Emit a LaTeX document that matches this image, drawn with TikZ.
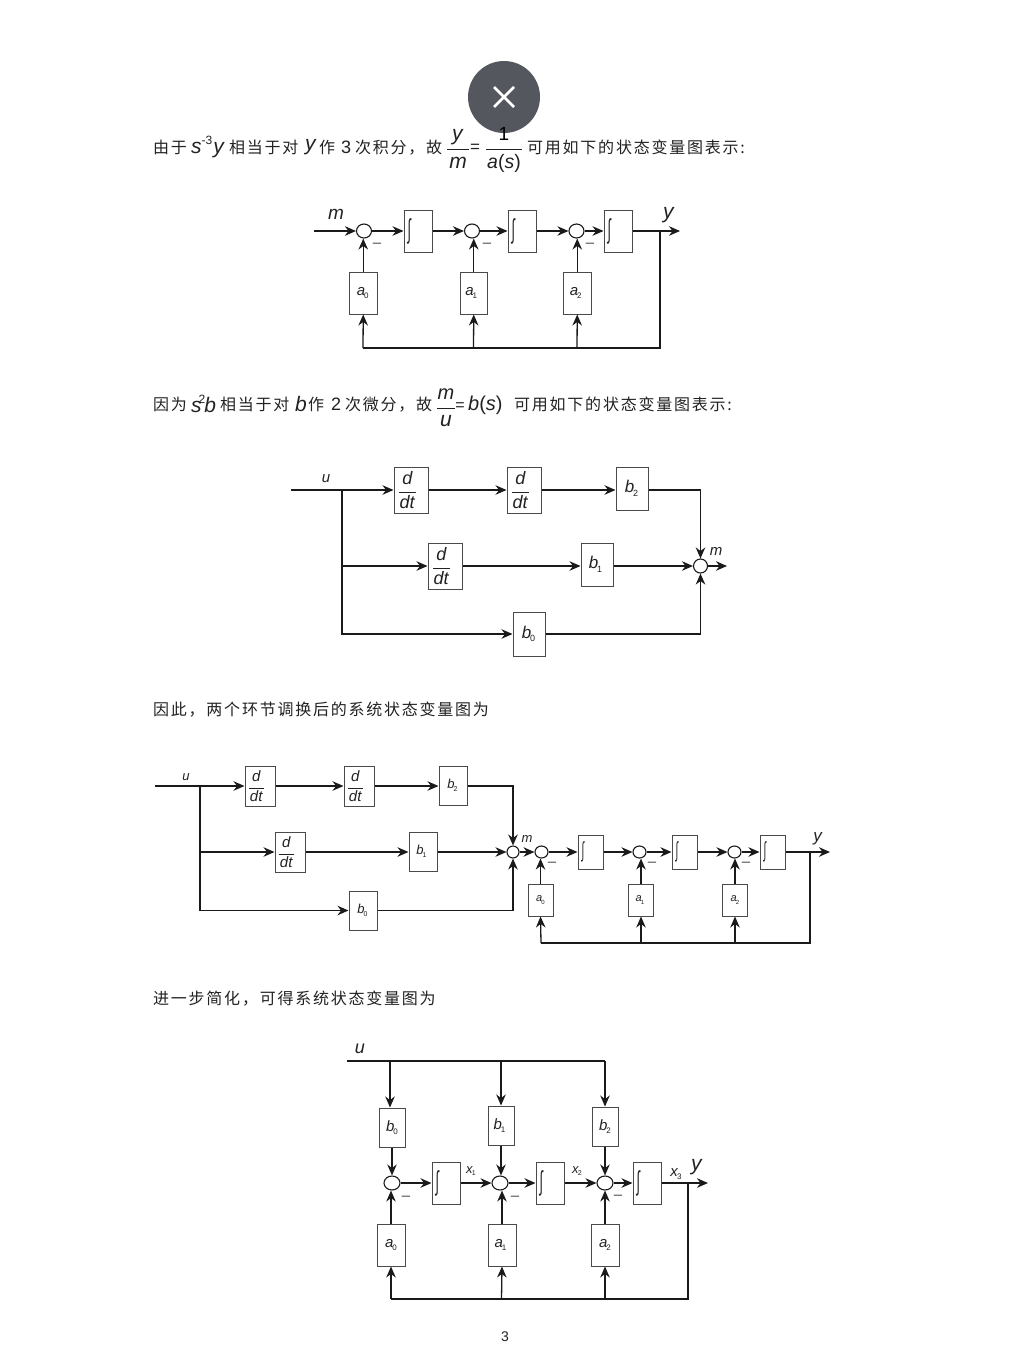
\documentclass[tikz,border=0pt]{standalone}
\usepackage{fontspec}
\usepackage{graphicx}
\usetikzlibrary{arrows.meta,shapes.geometric,calc}
\setmainfont{Liberation Sans}
\newfontfamily\cjka[LetterSpace=11]{Noto Sans CJK SC}
\definecolor{boxc}{HTML}{4A4A4A}
\definecolor{linec}{HTML}{1A1A1A}
\definecolor{txtc}{HTML}{222222}
\definecolor{closec}{HTML}{54585E}
\newcommand\fs[1]{\fontsize{#1}{#1}\selectfont}
% size, subsize, letter, index
\newcommand\lab[4]{\fs{#1}\textit{#3}\kern-.08em\raisebox{-.22em}{\fs{#2}#4}}
\newcommand\ddt[1]{\fs{#1}$\displaystyle{\mbox{\fs{#1}\textit{d}}\over\mbox{\fs{#1}\kern.5pt\textit{dt}\kern.5pt}}$\kern7pt}
\newcommand\intg[2]{\makebox[#1pt][l]{\hspace{3.5pt}\fs{#2}\scalebox{.62}[1.35]{∫}}}
% name x0 x1 y0 y1 content
\newcommand\bx[6]{%
  \pgfmathsetmacro\bxw{#3-#2}\pgfmathsetmacro\bxh{#5-#4}%
  \pgfmathsetmacro\bxx{(#2+#3)/2}\pgfmathsetmacro\bxy{(#4+#5)/2}%
  \node[blockbox,minimum width=\bxw pt,minimum height=\bxh pt] (#1) at (\bxx,\bxy) {#6};}
\newcommand\sumn[5]{\node[sumnode,minimum width=#4pt,minimum height=#5pt] (#1) at (#2,#3) {};}
\newcommand\mn[3]{\node[txt,yshift=-3.5pt,text=boxc] (#1) at (#2,#3) {\fs{15}--};}
\tikzset{
  x=1pt,y=-1pt,
  >={Stealth[length=11pt,width=9.5pt]},
  blockbox/.style={draw=boxc,line width=1pt,inner sep=0pt,fill=white,text=txtc},
  sumnode/.style={ellipse,draw=linec,line width=1.1pt,inner sep=0pt,fill=white},
  conn/.style={draw=linec,line width=1.3pt},
  arr/.style={conn,->},
  txt/.style={inner sep=0pt,text=txtc},
  lft/.style={txt,anchor=west},
  bar/.style={draw=txtc,line width=.9pt}
}
\begin{document}
\begin{tikzpicture}
\useasboundingbox (0,0) rectangle (1009,1360);
\fill[white] (0,0) rectangle (1009,1360);

% ---------- line 1
\node[lft] (t1a) at (153,147.5) {\cjka\fs{16}由于};
\node[lft] (t1b) at (191,147) {\fs{21}\textit{s}\raisebox{.42em}{\fs{12}-3}\kern1pt\textit{y}};
\node[lft] (t1c) at (229,147.5) {\cjka\fs{16}相当于对};
\node[lft] (t1d) at (305,147) {\fs{21}\textit{y}};
\node[lft] (t1e) at (319,147.5) {\cjka\fs{16}作};
\node[lft] (t1f) at (341,147.5) {\fs{18}3};
\node[lft] (t1g) at (355,147.5) {\cjka\fs{16}次积分，故};
\node[txt] (t1h) at (458,137) {\fs{21}\textit{y}};
\draw[bar] (447,149) -- (469,149);
\node[txt] (t1i) at (458,163) {\fs{21}\textit{m}};
\node[txt] (t1j) at (475,148) {\fs{17}=};
\draw[bar] (486,149) -- (522,149);
\node[txt] (t1k) at (504,163) {\fs{19.5}\textit{a}(\textit{s})};
\node[lft] (t1l) at (527,147.5) {\cjka\fs{16}可用如下的状态变量图表示:};

% close badge
\node[circle,fill=closec,minimum size=72pt,inner sep=0pt] (close) at (504,97) {};
\coordinate (xa) at (494,87);\coordinate (xb) at (514,107);
\coordinate (xc) at (514,87);\coordinate (xd) at (494,107);
\draw[white,line width=2.6pt] (xa) -- (xb) (xc) -- (xd);
\node[txt,text=black] (t1one) at (504,134) {\fs{19}1};

% ---------- diagram 1
\coordinate (Ain) at (314,231);\coordinate (Aout) at (680,231);
\coordinate (Ar) at (660,231);\coordinate (Abr) at (660,348);
\coordinate (Aj0) at (363,348);\coordinate (Aj1) at (473.5,348);\coordinate (Aj2) at (577,348);
\sumn{As0}{364}{231}{15}{14}\sumn{As1}{472}{231}{15}{14}\sumn{As2}{576.5}{231}{15}{14}
\bx{Ai0}{404}{432}{210}{252}{\intg{28}{20}}
\bx{Ai1}{508}{536}{210}{252}{\intg{28}{20}}
\bx{Ai2}{604}{632}{210}{252}{\intg{28}{20}}
\bx{Aa0}{349.5}{377}{272}{314}{\lab{15}{8}{a}{0}\kern1pt}
\bx{Aa1}{460}{487.5}{272}{314}{\lab{15}{8}{a}{1}\kern5pt}
\bx{Aa2}{563.5}{591}{272}{314}{\raisebox{3pt}{\lab{15}{8}{a}{2}\kern3pt}}
\draw[arr] (Ain) -- (As0.west);
\draw[arr] (As0.east) -- (Ai0.west);
\draw[arr] (Ai0.east) -- (As1.west);
\draw[arr] (As1.east) -- (Ai1.west);
\draw[arr] (Ai1.east) -- (As2.west);
\draw[arr] (As2.east) -- (Ai2.west);
\draw[arr] (Ai2.east) -- (Aout);
\draw[arr] (Aa0.north) -- (Aa0.north |- As0.south);
\draw[arr] (Aa1.north) -- (Aa1.north |- As1.south);
\draw[arr] (Aa2.north) -- (Aa2.north |- As2.south);
\draw[conn] (Ar) -- (Abr) -- (Aj0);
\draw[arr] (Aj0) -- (Aa0.south);
\draw[arr] (Aj1) -- (Aa1.south);
\draw[arr] (Aj2) -- (Aa2.south);
\mn{Am0}{377}{242}\mn{Am1}{487}{242}\mn{Am2}{590}{242}
\node[txt] (Alm) at (336,214) {\fs{19}\textit{m}};
\node[txt] (Aly) at (669,215) {\fs{21}\textit{y}};

% ---------- line 2
\node[lft] (t2a) at (153,404.5) {\cjka\fs{16}因为};
\node[lft] (t2b) at (191,404) {\fs{21}\textit{s}\kern-3pt\raisebox{.42em}{\fs{12}2}\kern-1pt\textit{b}};
\node[lft] (t2c) at (220,404.5) {\cjka\fs{16}相当于对};
\node[lft] (t2d) at (295,404) {\fs{21}\textit{b}};
\node[lft] (t2e) at (308,404.5) {\cjka\fs{16}作};
\node[lft] (t2f) at (331,404.5) {\fs{18}2};
\node[lft] (t2g) at (345,404.5) {\cjka\fs{16}次微分，故};
\node[txt] (t2h) at (446,394) {\fs{20}\textit{m}};
\draw[bar] (437,408) -- (455,408);
\node[txt] (t2i) at (446,421) {\fs{21}\textit{u}};
\node[txt] (t2j) at (460,407) {\fs{16}=};
\node[lft] (t2k) at (468,405) {\fs{20}\textit{b}(\textit{s})};
\node[lft] (t2l) at (514,404.5) {\cjka\fs{16}可用如下的状态变量图表示:};

% ---------- diagram 2
\coordinate (Bin) at (291,490);\coordinate (Bj) at (342,490);
\coordinate (Bout) at (727,566);
\sumn{Bs}{700.5}{566}{14}{14}
\bx{Bd0}{394}{428}{467}{513}{\ddt{18}}
\bx{Bd1}{507}{541}{467}{513}{\ddt{18}}
\bx{Bb2}{616}{648}{467}{510}{\lab{17}{9}{b}{2}\kern1pt}
\bx{Bd2}{428}{462}{543}{589}{\ddt{18}}
\bx{Bb1}{581}{613}{543}{586}{\lab{17}{9}{b}{1}\kern3pt}
\bx{Bb0}{513}{545}{612}{656}{\lab{17}{9}{b}{0}\kern1pt}
\draw[conn] (Bin) -- (Bj);
\draw[arr] (Bj) -- (Bd0.west);
\draw[arr] (Bd0.east) -- (Bd1.west);
\draw[arr] (Bd1.east) -- (Bd1.east -| Bb2.west);
\draw[arr] (Bj) |- (Bd2.west);
\draw[arr] (Bd2.east) -- (Bd2.east -| Bb1.west);
\draw[arr] (Bb1.east |- Bs.west) -- (Bs.west);
\draw[arr] (Bj) |- (Bb0.west);
\draw[arr] (Bb2.east |- Bj) -| (Bs.north);
\draw[arr] (Bb0.east) -| (Bs.south);
\draw[arr] (Bs.east) -- (Bout);
\node[txt] (Blu) at (326,479) {\fs{15}\textit{u}};
\node[txt] (Blm) at (716,551) {\fs{15}\textit{m}};

% ---------- line 3
\node[lft] (t3) at (153,709.5) {\cjka\fs{16}因此，两个环节调换后的系统状态变量图为};

% ---------- diagram 3
\coordinate (Cin) at (155,786);\coordinate (Cj) at (200,786);
\coordinate (Cout) at (830,852);\coordinate (Cr) at (810,852);\coordinate (Cbr) at (810,943);
\coordinate (Cj0) at (541,943);\coordinate (Cj1) at (641,943);\coordinate (Cj2) at (735,943);
\sumn{Cm}{513}{852}{12}{12}
\sumn{Cs0}{541.5}{852}{13}{12}\sumn{Cs1}{639.5}{852}{13}{12}\sumn{Cs2}{734.5}{852}{13}{12}
\bx{Cd0}{245}{275}{766}{806}{\ddt{15}}
\bx{Cd1}{344}{374}{766}{806}{\ddt{15}}
\bx{Cb2}{439}{467}{766}{805}{\lab{13}{7}{b}{2}\kern1pt}
\bx{Cd2}{275}{305}{832}{872}{\ddt{15}}
\bx{Cb1}{409}{437}{832}{871}{\lab{13}{7}{b}{1}\kern3pt}
\bx{Cb0}{349}{377}{891}{930}{\lab{13}{7}{b}{0}\kern1pt}
\bx{Ci0}{578}{603}{835}{869}{\intg{25}{16}}
\bx{Ci1}{672}{697}{835}{869}{\intg{25}{16}}
\bx{Ci2}{760}{785}{835}{869}{\intg{25}{16}}
\bx{Ca0}{528}{553}{884}{916}{\lab{11}{6}{a}{0}}
\bx{Ca1}{628.5}{653.5}{884}{916}{\lab{11}{6}{a}{1}\kern2pt}
\bx{Ca2}{722.5}{747.5}{884}{916}{\raisebox{2pt}{\lab{11}{6}{a}{2}}}
\draw[conn] (Cin) -- (Cj);
\draw[arr] (Cj) -- (Cd0.west);
\draw[arr] (Cd0.east) -- (Cd1.west);
\draw[arr] (Cd1.east) -- (Cd1.east -| Cb2.west);
\draw[arr] (Cj) |- (Cd2.west);
\draw[arr] (Cd2.east) -- (Cd2.east -| Cb1.west);
\draw[arr] (Cb1.east |- Cm.west) -- (Cm.west);
\draw[arr] (Cj) |- (Cb0.west);
\draw[arr] (Cb2.east |- Cj) -| (Cm.north);
\draw[arr] (Cb0.east) -| (Cm.south);
\draw[arr] (Cm.east) -- (Cs0.west);
\draw[arr] (Cs0.east) -- (Ci0.west);
\draw[arr] (Ci0.east) -- (Cs1.west);
\draw[arr] (Cs1.east) -- (Ci1.west);
\draw[arr] (Ci1.east) -- (Cs2.west);
\draw[arr] (Cs2.east) -- (Ci2.west);
\draw[arr] (Ci2.east) -- (Cout);
\draw[arr] (Ca0.north) -- (Ca0.north |- Cs0.south);
\draw[arr] (Ca1.north) -- (Ca1.north |- Cs1.south);
\draw[arr] (Ca2.north) -- (Ca2.north |- Cs2.south);
\draw[conn] (Cr) -- (Cbr) -- (Cj0);
\draw[arr] (Cj0) -- (Ca0.south);
\draw[arr] (Cj1) -- (Ca1.south);
\draw[arr] (Cj2) -- (Ca2.south);
\mn{Cm0}{552}{861}\mn{Cm1}{652}{861}\mn{Cm2}{746}{861}
\node[txt] (Clu) at (186,777) {\fs{13}\textit{u}};
\node[txt] (Clm) at (527,839) {\fs{13}\textit{m}};
\node[txt] (Cly) at (818,839) {\fs{17}\textit{y}};

% ---------- line 4
\node[lft] (t4) at (153,998.5) {\cjka\fs{16}进一步简化，可得系统状态变量图为};

% ---------- diagram 4
\coordinate (Din) at (347,1061);\coordinate (Dt0) at (390,1061);\coordinate (Dt1) at (501,1061);\coordinate (Dt2) at (605,1061);
\coordinate (Dout) at (708,1183);\coordinate (Dr) at (688,1183);\coordinate (Dbr) at (688,1299);
\coordinate (Dj0) at (391,1299);\coordinate (Dj1) at (501.5,1299);\coordinate (Dj2) at (605,1299);
\sumn{Ds0}{392}{1183}{16}{14}\sumn{Ds1}{500}{1183}{16}{14}\sumn{Ds2}{605}{1183}{16}{14}
\bx{Db0}{379}{405}{1108}{1147}{\lab{15}{8}{b}{0}}
\bx{Db1}{488}{514}{1106}{1145}{\lab{15}{8}{b}{1}\kern3pt}
\bx{Db2}{592}{618}{1107}{1146}{\lab{15}{8}{b}{2}}
\bx{Di0}{432}{460}{1162}{1204}{\intg{28}{20}}
\bx{Di1}{536}{564}{1162}{1204}{\intg{28}{20}}
\bx{Di2}{633}{661}{1162}{1204}{\intg{28}{20}}
\bx{Da0}{377}{405}{1224}{1266}{\lab{15}{8}{a}{0}}
\bx{Da1}{488}{516}{1224}{1266}{\lab{15}{8}{a}{1}\kern3pt}
\bx{Da2}{591}{619}{1224}{1266}{\raisebox{2pt}{\lab{15}{8}{a}{2}}}
\draw[conn] (Din) -- (Dt2);
\draw[arr] (Dt0) -- (Dt0 |- Db0.north);
\draw[arr] (Dt1) -- (Dt1 |- Db1.north);
\draw[arr] (Dt2) -- (Dt2 |- Db2.north);
\draw[arr] (Db0.south) -- (Ds0.north);
\draw[arr] (Db1.south) -- (Db1.south |- Ds1.north);
\draw[arr] (Db2.south) -- (Ds2.north);
\draw[arr] (Ds0.east) -- (Di0.west);
\draw[arr] (Di0.east) -- (Ds1.west);
\draw[arr] (Ds1.east) -- (Di1.west);
\draw[arr] (Di1.east) -- (Ds2.west);
\draw[arr] (Ds2.east) -- (Di2.west);
\draw[arr] (Di2.east) -- (Dout);
\draw[arr] (Da0.north) -- (Da0.north |- Ds0.south);
\draw[arr] (Da1.north) -- (Da1.north |- Ds1.south);
\draw[arr] (Da2.north) -- (Da2.north |- Ds2.south);
\draw[conn] (Dr) -- (Dbr) -- (Dj0);
\draw[arr] (Dj0) -- (Da0.south);
\draw[arr] (Dj1) -- (Da1.south);
\draw[arr] (Dj2) -- (Da2.south);
\mn{Dm0}{406}{1195}\mn{Dm1}{515}{1195}\mn{Dm2}{618}{1194}
\node[txt] (Dlu) at (360,1049) {\fs{18}\textit{u}};
\node[txt] (Dx1) at (471,1171) {\lab{13}{7}{x}{1}};
\node[txt] (Dx2) at (577,1171) {\lab{13}{7}{x}{2}};
\node[txt] (Dx3) at (676,1174) {\lab{15}{8}{x}{3}};
\node[txt] (Dly) at (697,1167) {\fs{21}\textit{y}};
\node[txt] (pg) at (505,1337) {\fs{14}3};
\end{tikzpicture}
\end{document}
